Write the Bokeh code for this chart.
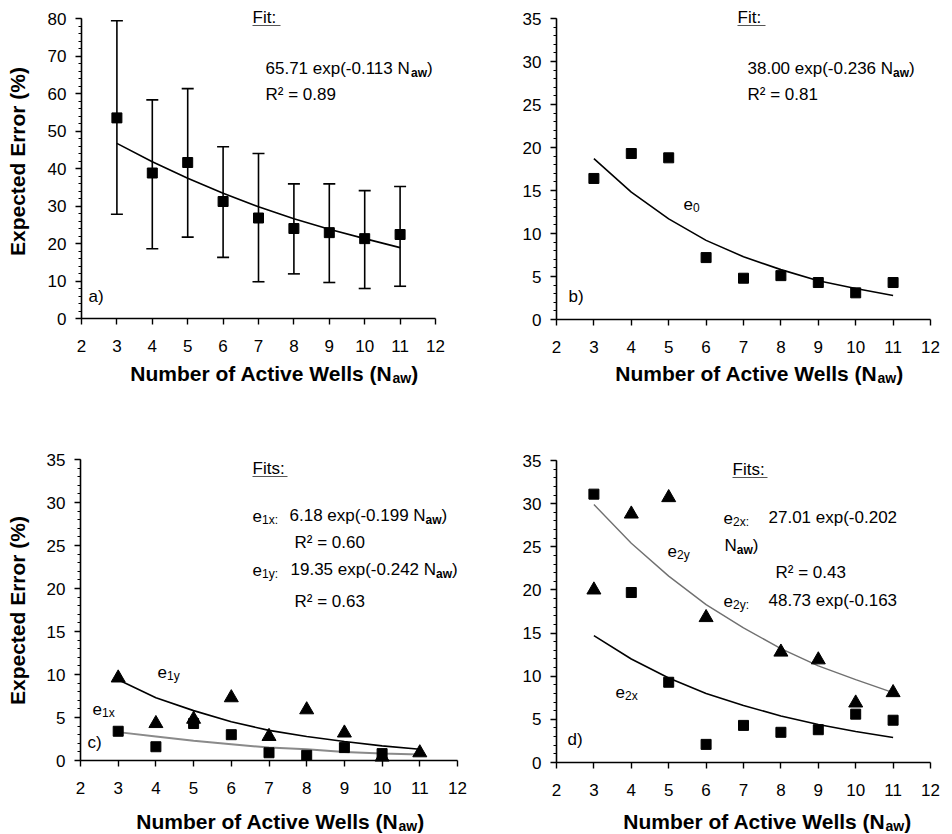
import math
import numpy as np
from bokeh.plotting import figure
from bokeh.models import Range1d, Label, Whisker, ColumnDataSource, FixedTicker, TeeHead
from bokeh.layouts import column, row
from bokeh.embed import file_html
from bokeh.resources import INLINE

# ---------------- data ----------------
N_AW = [3, 4, 5, 6, 7, 8, 9, 10, 11]
X_TICKS = [2, 3, 4, 5, 6, 7, 8, 9, 10, 11, 12]
A_Y_TICKS = [0, 10, 20, 30, 40, 50, 60, 70, 80]
BCD_Y_TICKS = [0, 5, 10, 15, 20, 25, 30, 35]

# a) expected error with error bars
A_ERR = [53.5, 38.8, 41.6, 31.2, 26.8, 24.0, 22.9, 21.3, 22.4]
A_UPPER = [79.4, 58.3, 61.3, 45.8, 44.0, 35.9, 35.9, 34.1, 35.2]
A_LOWER = [27.8, 18.6, 21.7, 16.3, 9.8, 11.9, 9.6, 8.0, 8.6]
A_FIT = [46.7, 41.8, 37.4, 33.4, 29.8, 26.6, 23.8, 21.3, 18.9]

# b) e0
B_E0 = [16.4, 19.3, 18.8, 7.2, 4.8, 5.1, 4.3, 3.1, 4.3]
B_FIT = [18.7, 14.8, 11.7, 9.2, 7.3, 5.8, 4.5, 3.6, 2.8]

# c) e1x (squares), e1y (triangles)
C_E1X = [3.4, 1.6, 4.3, 3.0, 0.9, 0.6, 1.5, 0.8, np.nan]
C_E1Y = [9.6, 4.3, 4.8, 7.3, 2.8, 5.9, 3.2, 0.4, 0.9]
C_FIT_E1X = [3.3, 2.8, 2.3, 1.9, 1.5, 1.3, 1.0, 0.8, 0.7]
C_FIT_E1Y = [9.4, 7.3, 5.8, 4.5, 3.5, 2.8, 2.2, 1.7, 1.3]

# d) e2x (squares), e2y (triangles)
D_E2X = [31.1, 19.7, 9.3, 2.1, 4.3, 3.5, 3.8, 5.6, 4.9]
D_E2Y = [20.0, 28.8, 30.7, 16.8, np.nan, 12.8, 11.9, 6.9, 8.1]
D_FIT_E2X = [14.7, 12.0, 9.8, 8.0, 6.6, 5.4, 4.4, 3.6, 2.9]
D_FIT_E2Y = [29.9, 25.4, 21.6, 18.3, 15.6, 13.2, 11.2, 9.6, 8.1]

FONT = "Liberation Sans"
TEXT_DY = 5  # baseline correction (px)

# ---------------- layout geometry (page pixels) ----------------
GA = dict(bx=0, by=0, bw=476, bh=417, l=81, r=435, t=18, b=318, ymax=80)
GB = dict(bx=476, by=0, bw=476, bh=417, l=556, r=930, t=18, b=319, ymax=35)
GC = dict(bx=0, by=417, bw=476, bh=417, l=80, r=457, t=459, b=760, ymax=35)
GD = dict(bx=476, by=417, bw=476, bh=417, l=556, r=930, t=460, b=762, ymax=35)

REG = {' ': 278, '(': 333, ')': 333, '-': 333, '.': 278, ':': 278, '=': 584,
       '²': 333, 'R': 722, 'N': 722, 'e': 556, 'x': 500, 'p': 556, 'a': 556,
       'w': 722, 'F': 611, 'i': 222, 't': 278, 's': 500, 'y': 500}
BOLD = {' ': 278, '(': 333, ')': 333, 'a': 556, 'w': 778, 'N': 722, 'u': 611,
        'm': 889, 'b': 611, 'e': 556, 'r': 389, 'o': 611, 'f': 333, 'A': 722,
        'c': 556, 't': 333, 'i': 278, 'v': 556, 'l': 278, 's': 556, 'W': 944}


def text_width(text, size, bold=False):
    tab = BOLD if bold else REG
    return sum(tab.get(ch, 556) for ch in text) * size / 1000.0


def to_data(g, px, py):
    x = 2 + (px - g["l"]) / (g["r"] - g["l"]) * 10
    y = g["ymax"] * (g["b"] - py) / (g["b"] - g["t"])
    return x, y


def put(p, g, px, py, text, size=17, bold=False, align="left", color="black",
        baseline="alphabetic", angle=0.0, dy=TEXT_DY):
    x, y = to_data(g, px, py - dy)
    p.add_layout(Label(x=x, y=y, text=text, text_font=FONT,
                       text_font_size=f"{size}px",
                       text_font_style="bold" if bold else "normal",
                       text_align=align, text_baseline=baseline,
                       text_color=color, angle=angle))


def rich(p, g, px, py, parts):
    x = px
    for text, style in parts:
        if style == "n":
            size, bold, dy = 17, False, 0
        elif style == "sb":
            size, bold, dy = 12, True, 4
        else:
            size, bold, dy = 12, False, 4
        put(p, g, x, py + dy, text, size, bold)
        x += text_width(text, size, bold)


def underline(p, g, px0, px1, py):
    x0, y = to_data(g, px0, py)
    x1, _ = to_data(g, px1, py)
    p.segment(x0=[x0], y0=[y], x1=[x1], y1=[y], line_color="#555555", line_width=1.2)


def xlabel(p, g, px_anchor, py):
    put(p, g, px_anchor, py, "Number of Active Wells (N", 21, True, align="right")
    put(p, g, px_anchor, py + 4, "aw", 14, True)
    put(p, g, px_anchor + text_width("aw", 14, True), py, ")", 21, True)


def ylabel(p, g, px, py):
    put(p, g, px, py, "Expected Error (%)", 21, True, align="center",
        baseline="middle", angle=math.pi / 2, dy=0)


def make_panel(g, yticks, yminor):
    sx = 10.0 / (g["r"] - g["l"])
    sy = g["ymax"] / (g["b"] - g["t"])
    x0 = 2 - (g["l"] - g["bx"]) * sx
    x1 = 12 + (g["bx"] + g["bw"] - g["r"]) * sx
    y0 = -(g["by"] + g["bh"] - g["b"]) * sy
    y1 = g["ymax"] + (g["t"] - g["by"]) * sy
    p = figure(width=g["bw"], height=g["bh"],
               x_range=Range1d(x0, x1), y_range=Range1d(y0, y1),
               min_border=0, min_border_left=0, min_border_right=0,
               min_border_top=0, min_border_bottom=0,
               output_backend="svg", toolbar_location=None, tools="")
    p.outline_line_color = None
    p.grid.visible = False
    p.background_fill_color = "white"
    p.border_fill_color = "white"
    xa = p.xaxis[0]
    xa.ticker = FixedTicker(ticks=X_TICKS)
    xa.fixed_location = 0
    xa.bounds = (2, 12)
    ya = p.yaxis[0]
    ya.ticker = FixedTicker(ticks=yticks, minor_ticks=yminor)
    ya.fixed_location = 2
    ya.bounds = (0, g["ymax"])
    for ax in (xa, ya):
        ax.axis_line_color = "black"
        ax.axis_line_width = 1.6
        ax.major_tick_line_color = "black"
        ax.major_tick_line_width = 1.4
        ax.minor_tick_line_color = "black"
        ax.minor_tick_line_width = 1.2
        ax.major_tick_in = 0
        ax.major_tick_out = 6
        ax.minor_tick_in = 0
        ax.major_label_text_font = FONT
        ax.major_label_text_font_size = "17px"
        ax.major_label_text_color = "black"
    xa.minor_tick_out = 0
    ya.minor_tick_out = 3
    xa.major_label_standoff = 15
    ya.major_label_standoff = 9
    return p


# ---------------- panel a ----------------
pa = make_panel(GA, A_Y_TICKS, list(range(0, 81, 2)))
src_a = ColumnDataSource(dict(x=N_AW, y=A_ERR, upper=A_UPPER, lower=A_LOWER))
pa.add_layout(Whisker(source=src_a, base="x", upper="upper", lower="lower",
                      dimension="height", line_color="black", line_width=1.6,
                      upper_head=TeeHead(size=12, line_color="black", line_width=1.6),
                      lower_head=TeeHead(size=12, line_color="black", line_width=1.6)))
pa.line(N_AW, A_FIT, line_color="black", line_width=1.6)
pa.scatter("x", "y", source=src_a, marker="square", size=10, color="black")
put(pa, GA, 252, 22, "Fit:")
underline(pa, GA, 252, 280, 25)
rich(pa, GA, 265, 73, [("65.71 exp(-0.113 N", "n"), ("aw", "sb"), (")", "n")])
put(pa, GA, 265, 99, "R² = 0.89")
put(pa, GA, 88, 301, "a)")
xlabel(pa, GA, 392, 378)
ylabel(pa, GA, 17, 161)

# ---------------- panel b ----------------
pb = make_panel(GB, BCD_Y_TICKS, list(range(0, 36)))
pb.line(N_AW, B_FIT, line_color="black", line_width=1.6)
pb.scatter(N_AW, B_E0, marker="square", size=10, color="black")
put(pb, GB, 737, 22, "Fit:")
underline(pb, GB, 737, 765, 25)
rich(pb, GB, 747, 73, [("38.00 exp(-0.236 N", "n"), ("aw", "sb"), (")", "n")])
put(pb, GB, 747, 99, "R² = 0.81")
rich(pb, GB, 683, 208, [("e", "n"), ("0", "s")])
put(pb, GB, 568, 301, "b)")
xlabel(pb, GB, 877, 378)

# ---------------- panel c ----------------
pc = make_panel(GC, BCD_Y_TICKS, list(range(0, 36)))
pc.line(N_AW, C_FIT_E1X, line_color="#8a8a8a", line_width=2.0)
pc.line(N_AW, C_FIT_E1Y, line_color="black", line_width=1.6)
pc.scatter(N_AW, C_E1X, marker="square", size=10, color="black")
pc.scatter(N_AW, C_E1Y, marker="triangle", size=14, color="black")
put(pc, GC, 252, 473, "Fits:")
underline(pc, GC, 252, 287, 476)
rich(pc, GC, 252, 520, [("e", "n"), ("1x:", "s")])
rich(pc, GC, 289, 520, [("6.18 exp(-0.199 N", "n"), ("aw", "sb"), (")", "n")])
put(pc, GC, 294, 547, "R² = 0.60")
rich(pc, GC, 252, 574, [("e", "n"), ("1y:", "s")])
rich(pc, GC, 290, 574, [("19.35 exp(-0.242 N", "n"), ("aw", "sb"), (")", "n")])
put(pc, GC, 294, 606, "R² = 0.63")
rich(pc, GC, 157, 676, [("e", "n"), ("1y", "s")])
rich(pc, GC, 92, 713, [("e", "n"), ("1x", "s")])
put(pc, GC, 87, 747, "c)")
xlabel(pc, GC, 398, 826)
ylabel(pc, GC, 17, 610)

# ---------------- panel d ----------------
pd_ = make_panel(GD, BCD_Y_TICKS, list(range(0, 36)))
pd_.line(N_AW, D_FIT_E2Y, line_color="#707070", line_width=1.4)
pd_.line(N_AW, D_FIT_E2X, line_color="black", line_width=1.6)
pd_.scatter(N_AW, D_E2X, marker="square", size=10, color="black")
pd_.scatter(N_AW, D_E2Y, marker="triangle", size=14, color="black")
put(pd_, GD, 732, 474, "Fits:")
underline(pd_, GD, 732, 767, 477)
rich(pd_, GD, 723, 522, [("e", "n"), ("2x:", "s")])
put(pd_, GD, 768, 522, "27.01 exp(-0.202")
rich(pd_, GD, 724, 550, [("N", "n"), ("aw", "sb"), (")", "n")])
put(pd_, GD, 775, 577, "R² = 0.43")
rich(pd_, GD, 723, 605, [("e", "n"), ("2y:", "s")])
put(pd_, GD, 768, 605, "48.73 exp(-0.163")
rich(pd_, GD, 667, 555, [("e", "n"), ("2y", "s")])
rich(pd_, GD, 615, 696, [("e", "n"), ("2x", "s")])
put(pd_, GD, 567, 744, "d)")
xlabel(pd_, GD, 885, 826)

layout = column(row(pa, pb), row(pc, pd_))
open("out.html", "w").write(file_html(layout, INLINE))
